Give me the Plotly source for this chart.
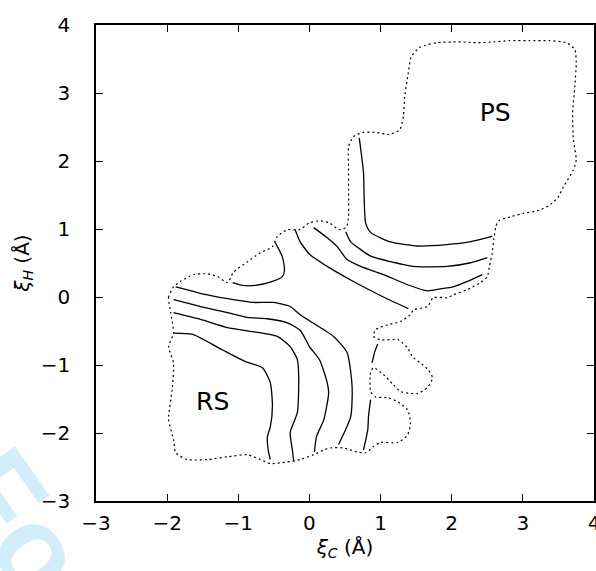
import plotly.graph_objects as go

# ---- data ----
boundary_x = [-1.91, -1.98, -1.95, -1.91, -1.98, -1.91, -1.93, -1.98, -1.91, -1.88, -1.72, -1.43, -1.15, -0.87,
              -0.69, -0.55, -0.41, -0.27, -0.13, 0.06, 0.20, 0.30, 0.48, 0.67, 0.79, 0.90, 1.00, 1.24, 1.38,
              1.42, 1.38, 1.24, 1.10, 0.93, 0.86, 0.86, 0.90, 1.04, 1.18, 1.28, 1.52, 1.66, 1.73, 1.67, 1.56,
              1.45, 1.38, 1.25, 1.00, 0.90, 0.93, 1.10, 1.28, 1.42, 1.46, 1.66, 1.74, 1.94, 2.02, 2.22, 2.40,
              2.50, 2.53, 2.57, 2.59, 2.62, 2.66, 2.83, 3.01, 3.21, 3.36, 3.49, 3.57, 3.71, 3.75, 3.71, 3.70,
              3.73, 3.75, 3.73, 3.61, 3.37, 3.09, 2.81, 2.59, 2.35, 2.17, 2.02, 1.79, 1.55, 1.43, 1.39, 1.34,
              1.32, 1.27, 1.12, 0.94, 0.76, 0.62, 0.55, 0.55, 0.55, 0.55, 0.52, 0.42, 0.28, 0.14, 0.00, -0.14,
              -0.31, -0.45, -0.52, -0.69, -0.87, -1.07, -1.15, -1.29, -1.43, -1.63, -1.81, -1.91]
boundary_y = [0.15, 0.00, -0.23, -0.53, -0.73, -0.97, -1.36, -1.80, -2.10, -2.29, -2.39, -2.39, -2.35, -2.32,
              -2.39, -2.45, -2.44, -2.42, -2.39, -2.32, -2.25, -2.22, -2.22, -2.28, -2.29, -2.20, -2.14, -2.14,
              -2.03, -1.85, -1.66, -1.54, -1.48, -1.47, -1.39, -1.11, -1.04, -1.14, -1.29, -1.39, -1.42, -1.33,
              -1.19, -1.07, -0.97, -0.88, -0.75, -0.63, -0.63, -0.58, -0.48, -0.41, -0.36, -0.26, -0.19, -0.14,
              -0.01, -0.01, 0.03, 0.11, 0.21, 0.30, 0.45, 0.65, 0.84, 1.03, 1.12, 1.18, 1.23, 1.27, 1.34, 1.46,
              1.62, 1.87, 2.02, 2.31, 2.71, 3.09, 3.45, 3.64, 3.74, 3.77, 3.77, 3.77, 3.75, 3.74, 3.75, 3.75,
              3.74, 3.67, 3.53, 3.30, 2.95, 2.65, 2.46, 2.39, 2.42, 2.42, 2.36, 2.21, 1.92, 1.53, 1.18, 1.03,
              0.99, 1.09, 1.12, 1.09, 0.99, 0.99, 0.89, 0.74, 0.65, 0.52, 0.36, 0.21, 0.30, 0.34, 0.33, 0.23,
              0.15]

a1_x = [0.70, 0.76, 0.77, 0.79, 0.86, 1.14, 1.52, 1.93, 2.25, 2.57]
a1_y = [2.34, 1.83, 1.43, 1.09, 0.95, 0.81, 0.75, 0.77, 0.81, 0.89]
a2_x = [0.51, 0.58, 0.69, 0.86, 1.14, 1.46, 1.93, 2.25, 2.50]
a2_y = [0.96, 0.81, 0.72, 0.60, 0.52, 0.45, 0.45, 0.50, 0.58]
a3_x = [0.06, 0.25, 0.39, 0.53, 0.72, 1.04, 1.38, 1.66, 1.84, 2.02, 2.22, 2.43]
a3_y = [1.02, 0.87, 0.74, 0.55, 0.45, 0.33, 0.18, 0.09, 0.12, 0.15, 0.23, 0.33]
a4_x = [-0.48, -0.38, -0.35, -0.38, -0.52, -0.76, -0.94, -1.08]
a4_y = [0.80, 0.59, 0.40, 0.30, 0.23, 0.17, 0.17, 0.21]
b1_x = [-0.20, -0.13, 0.01, 0.25, 0.58, 1.04, 1.39]
b1_y = [0.99, 0.81, 0.62, 0.45, 0.25, 0.00, -0.17]
c1_x = [-1.88, -1.43, -1.07, -0.79, -0.51, -0.27, -0.13, 0.20, 0.34, 0.53, 0.60, 0.58, 0.41]
c1_y = [0.15, 0.03, -0.04, -0.08, -0.08, -0.14, -0.26, -0.48, -0.58, -0.82, -1.32, -1.76, -2.17]
c2_x = [-1.91, -1.53, -1.15, -0.87, -0.59, -0.31, -0.13, 0.00, 0.14, 0.24, 0.27, 0.20, 0.10, 0.07]
c2_y = [-0.04, -0.14, -0.23, -0.30, -0.32, -0.38, -0.49, -0.73, -0.92, -1.22, -1.41, -1.81, -2.05, -2.28]
c3_x = [-1.91, -1.53, -1.15, -0.79, -0.45, -0.27, -0.17, -0.15, -0.17, -0.27, -0.24, -0.22]
c3_y = [-0.23, -0.33, -0.45, -0.51, -0.58, -0.73, -0.92, -1.22, -1.70, -1.99, -2.25, -2.42]
c4_x = [-1.91, -1.64, -1.22, -0.90, -0.66, -0.55, -0.52, -0.55, -0.59, -0.58, -0.55]
c4_y = [-0.53, -0.55, -0.78, -0.95, -1.04, -1.26, -1.61, -1.91, -2.05, -2.25, -2.39]
d_x = [0.96, 0.92, 0.88]
d_y = [-0.69, -0.80, -0.97]
e_x = [0.86, 0.83, 0.82, 0.76]
e_y = [-1.51, -1.76, -1.95, -2.25]

tick_vals = [-3, -2, -1, 0, 1, 2, 3, 4]
tick_text = ["\u22123", "\u22122", "\u22121", "0", "1", "2", "3", "4"]

label_text = ["PS", "RS"]
label_x = [2.61, -1.36]
label_y = [2.68, -1.57]

FONT = "DejaVu Sans"

fig = go.Figure()

fig.add_trace(go.Scatter(x=boundary_x, y=boundary_y, mode="lines",
                         line=dict(color="black", width=1.2, dash="2px,3px", shape="spline", smoothing=0.6),
                         hoverinfo="skip", showlegend=False))

for xs, ys in [(a1_x, a1_y), (a2_x, a2_y), (a3_x, a3_y), (a4_x, a4_y), (b1_x, b1_y),
               (c1_x, c1_y), (c2_x, c2_y), (c3_x, c3_y), (c4_x, c4_y), (d_x, d_y), (e_x, e_y)]:
    fig.add_trace(go.Scatter(x=xs, y=ys, mode="lines",
                             line=dict(color="black", width=1.3, shape="spline", smoothing=0.6),
                             hoverinfo="skip", showlegend=False))

fig.add_trace(go.Scatter(x=label_x, y=label_y, mode="text", text=label_text,
                         textfont=dict(family=FONT, size=25, color="black"),
                         hoverinfo="skip", showlegend=False))

axis_common = dict(
    tickmode="array", tickvals=tick_vals, ticktext=tick_text,
    showgrid=False, zeroline=False, automargin=False,
    showline=True, linecolor="black", linewidth=1.5, mirror="ticks",
    ticks="inside", ticklen=7, tickwidth=1, tickcolor="black",
    tickfont=dict(family=FONT, size=20, color="black"),
    ticklabeloverflow="allow",
    range=[-3, 4],
)

fig.update_xaxes(**axis_common,
                 title=dict(text="<i>ξ</i><sub><i>C</i></sub> (Å)", font=dict(family=FONT, size=20, color="black"),
                            standoff=6),
                 ticklabelstandoff=3)
fig.update_yaxes(**axis_common,
                 title=dict(text="<i>ξ</i><sub><i>H</i></sub> (Å)", font=dict(family=FONT, size=20, color="black"),
                            standoff=6),
                 ticklabelstandoff=20)

fig.add_annotation(text="<b>For</b>", xref="paper", yref="paper", x=-0.128, y=-0.084,
                   xanchor="center", yanchor="middle", textangle=55, showarrow=False,
                   font=dict(family="Liberation Sans", size=118, color="#d3eefb"))

fig.update_layout(width=596, height=571, margin=dict(l=96, r=2, t=25, b=70),
                  plot_bgcolor="white", paper_bgcolor="white")

fig.write_html("out.html", config={"displayModeBar": False},
               post_script="document.body.style.margin='0';document.body.style.overflow='hidden';")
